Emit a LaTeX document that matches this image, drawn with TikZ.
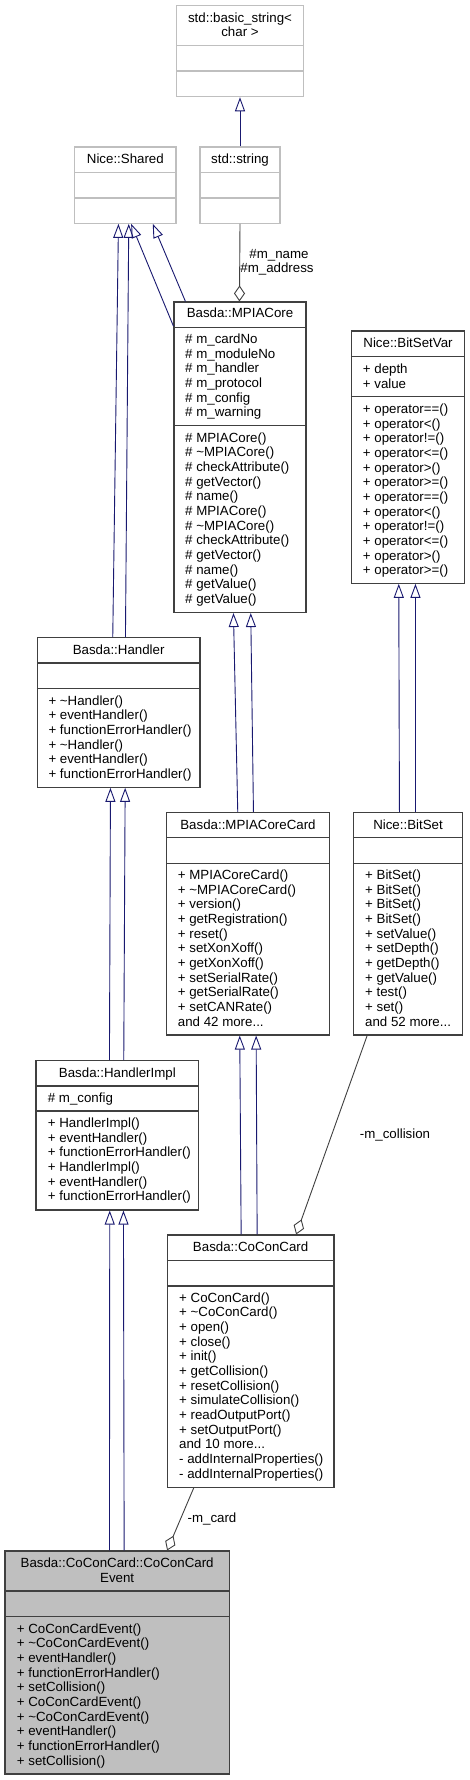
\documentclass[tikz,border=0pt]{standalone}
\usepackage{fontspec}
\setmainfont{Liberation Sans}
\usetikzlibrary{arrows.meta,fit}
\definecolor{inhc}{RGB}{25,25,112}
\definecolor{boxc}{RGB}{64,64,64}
\definecolor{lightc}{RGB}{191,191,191}
\definecolor{aggc}{RGB}{64,64,64}
\definecolor{evfill}{RGB}{191,191,191}
\newcommand\mydots{...}
\tikzset{
  cls/.style={draw=boxc, line width=1.1pt, inner sep=0pt, fill=white},
  lightcls/.style={draw=lightc, line width=1.1pt, inner sep=0pt, fill=white},
  evcls/.style={draw=boxc, line width=1.1pt, inner sep=0pt, fill=evfill},
  mem/.style={inner sep=0pt, font=\fontsize{13.3}{14.67}\selectfont, text=black},
  ttl/.style={mem, anchor=base},
  inh/.style={draw=inhc, line width=0.9pt, -{Triangle[open, length=14pt, width=10pt, line width=0.9pt]}},
  agg/.style={draw=aggc, line width=0.9pt, -{Diamond[open, length=16pt, width=11pt, line width=0.9pt]}},
  lbl/.style={mem, anchor=center},
  divline/.style={draw=boxc, line width=1.1pt},
  lightdiv/.style={draw=lightc, line width=1.1pt},
}
\newcommand\umldiv[3]{\draw[#3] (#1.west |- 0,#2) -- (#1.east |- 0,#2);}
\newcommand\members[4]{%
  \foreach \t [count=\i from 0] in {#4} {\node[mem, anchor=base west] (#1-\i) at ({#2},{#3+\i*14.67}) {\t};}}
\begin{document}
\begin{tikzpicture}[x=1pt,y=-1pt]
\fill[white] (0,0) rectangle (470,1780);
\useasboundingbox (0,0) rectangle (470,1780);

% std::basic_string<char>
\node[lightcls, fit={(176.7,5.7) (303.3,96.7)}] (bstr) {};
\umldiv{bstr}{45.7}{lightdiv}
\umldiv{bstr}{71}{lightdiv}
\node[ttl] (bstrt1) at (240,22) {std::basic\_string<};
\node[ttl] (bstrt2) at (240,36.7) {char >};

% Nice::Shared
\node[lightcls, fit={(74.7,147) (176,223.3)}] (shared) {};
\umldiv{shared}{172.7}{lightdiv}
\umldiv{shared}{198}{lightdiv}
\node[ttl] (sharedt) at (125.35,163.2) {Nice::Shared};

% std::string
\node[lightcls, fit={(200,147) (280,223.3)}] (str) {};
\umldiv{str}{172.7}{lightdiv}
\umldiv{str}{198}{lightdiv}
\node[ttl] (strt) at (240,163.2) {std::string};

% Basda::MPIACore
\node[cls, fit={(174,302) (306,612.5)}] (mpia) {};
\umldiv{mpia}{327.3}{divline}
\umldiv{mpia}{425.7}{divline}
\node[ttl] (mpiat) at (240,317.8) {Basda::MPIACore};
\members{mpiaa}{185}{343.5}{\# m\_cardNo,\# m\_moduleNo,\# m\_handler,\# m\_protocol,\# m\_config,\# m\_warning}
\members{mpiam}{185}{442.2}{\# MPIACore(),\# \textasciitilde MPIACore(),\# checkAttribute(),\# getVector(),\# name(),\# MPIACore(),\# \textasciitilde MPIACore(),\# checkAttribute(),\# getVector(),\# name(),\# getValue(),\# getValue()}

% Nice::BitSetVar
\node[cls, fit={(351.3,331) (464.7,583.3)}] (bsv) {};
\umldiv{bsv}{356.7}{divline}
\umldiv{bsv}{396.7}{divline}
\node[ttl] (bsvt) at (408,347.2) {Nice::BitSetVar};
\members{bsva}{362.7}{373.5}{+ depth,+ value}
\members{bsvm}{362.7}{413.5}{+ operator==(),+ operator<(),+ operator!=(),+ operator<=(),+ operator>(),+ operator>=(),+ operator==(),+ operator<(),+ operator!=(),+ operator<=(),+ operator>(),+ operator>=()}

% Basda::Handler
\node[cls, fit={(37.3,637.7) (200,787.3)}] (hand) {};
\umldiv{hand}{663}{divline}
\umldiv{hand}{688.7}{divline}
\node[ttl] (handt) at (118.65,654.2) {Basda::Handler};
\members{handm}{48.3}{705.2}{+ \textasciitilde Handler(),+ eventHandler(),+ functionErrorHandler(),+ \textasciitilde Handler(),+ eventHandler(),+ functionErrorHandler()}

% Basda::MPIACoreCard
\node[cls, fit={(166.7,812.3) (329.3,1035)}] (mcard) {};
\umldiv{mcard}{837.7}{divline}
\umldiv{mcard}{863.3}{divline}
\node[ttl] (mcardt) at (248,829.2) {Basda::MPIACoreCard};
\members{mcardm}{177.7}{879.5}{+ MPIACoreCard(),+ \textasciitilde MPIACoreCard(),+ version(),+ getRegistration(),+ reset(),+ setXonXoff(),+ getXonXoff(),+ setSerialRate(),+ getSerialRate(),+ setCANRate(),and 42 more\mydots}

% Nice::BitSet
\node[cls, fit={(353.3,812.3) (462.7,1035)}] (bitset) {};
\umldiv{bitset}{837.7}{divline}
\umldiv{bitset}{863.3}{divline}
\node[ttl] (bitsett) at (408,829.2) {Nice::BitSet};
\members{bitsetm}{365}{879.5}{+ BitSet(),+ BitSet(),+ BitSet(),+ BitSet(),+ setValue(),+ setDepth(),+ getDepth(),+ getValue(),+ test(),+ set(),and 52 more\mydots}

% Basda::HandlerImpl
\node[cls, fit={(36,1060.7) (198.7,1210)}] (himpl) {};
\umldiv{himpl}{1086}{divline}
\umldiv{himpl}{1111}{divline}
\node[ttl] (himplt) at (117.35,1077.2) {Basda::HandlerImpl};
\members{himpla}{47.7}{1102.5}{\# m\_config}
\members{himplm}{47.7}{1127.5}{+ HandlerImpl(),+ eventHandler(),+ functionErrorHandler(),+ HandlerImpl(),+ eventHandler(),+ functionErrorHandler()}

% Basda::CoConCard
\node[cls, fit={(167.3,1235) (334,1487.3)}] (ccc) {};
\umldiv{ccc}{1260.3}{divline}
\umldiv{ccc}{1286}{divline}
\node[ttl] (ccct) at (250.65,1251.2) {Basda::CoConCard};
\members{cccm}{179}{1302.2}{+ CoConCard(),+ \textasciitilde CoConCard(),+ open(),+ close(),+ init(),+ getCollision(),+ resetCollision(),+ simulateCollision(),+ readOutputPort(),+ setOutputPort(),and 10 more\mydots,- addInternalProperties(),- addInternalProperties()}

% Basda::CoConCard::CoConCardEvent
\node[evcls, fit={(5,1551) (229.3,1774)}] (ev) {};
\umldiv{ev}{1591}{divline}
\umldiv{ev}{1616.7}{divline}
\node[ttl] (evt1) at (117.15,1567.2) {Basda::CoConCard::CoConCard};
\node[ttl] (evt2) at (117.15,1582) {Event};
\members{evm}{16.7}{1633.2}{+ CoConCardEvent(),+ \textasciitilde CoConCardEvent(),+ eventHandler(),+ functionErrorHandler(),+ setCollision(),+ CoConCardEvent(),+ \textasciitilde CoConCardEvent(),+ eventHandler(),+ functionErrorHandler(),+ setCollision()}

% inheritance
\draw[inh] (str.north) -- (bstr.south);
\draw[inh] ([xshift=76pt]hand.north west) -- ([xshift=44.3pt]shared.south west);
\draw[inh] ([xshift=88.7pt]hand.north west) -- ([xshift=54.6pt]shared.south west);
\draw[inh] ([yshift=-24.7pt]mpia.north west) -- ([xshift=57pt]shared.south west);
\draw[inh] ([xshift=12pt]mpia.north west) -- ([xshift=78.6pt]shared.south west);
\draw[inh] ([xshift=71.6pt]mcard.north west) -- ([xshift=60pt]mpia.south west);
\draw[inh] ([xshift=87.3pt]mcard.north west) -- ([xshift=77.3pt]mpia.south west);
\draw[inh] ([xshift=46.7pt]bitset.north west) -- ([xshift=48pt]bsv.south west);
\draw[inh] ([xshift=62.7pt]bitset.north west) -- ([xshift=64.7pt]bsv.south west);
\draw[inh] ([xshift=74pt]himpl.north west) -- ([xshift=73.7pt]hand.south west);
\draw[inh] ([xshift=88.3pt]himpl.north west) -- ([xshift=88.4pt]hand.south west);
\draw[inh] ([xshift=74.4pt]ccc.north west) -- ([xshift=73.6pt]mcard.south west);
\draw[inh] ([xshift=90.4pt]ccc.north west) -- ([xshift=90pt]mcard.south west);
\draw[inh] ([xshift=105pt]ev.north west) -- ([xshift=74.3pt]himpl.south west);
\draw[inh] ([xshift=119.7pt]ev.north west) -- ([xshift=88pt]himpl.south west);

% aggregation
\draw[agg] (str.south) -- ([xshift=66pt]mpia.north west);
\draw[agg] ([xshift=14.4pt]bitset.south west) -- ([xshift=129.4pt]ccc.north west);
\draw[agg] ([xshift=27pt]ccc.south west) -- ([xshift=162.7pt]ev.north west);

% labels
\node[lbl] (lname) at (279,255) {\#m\_name};
\node[lbl] (laddr) at (277,268.7) {\#m\_address};
\node[lbl] (lcoll) at (395,1134.7) {-m\_collision};
\node[lbl] (lcard) at (212,1518.7) {-m\_card};
\end{tikzpicture}
\end{document}
